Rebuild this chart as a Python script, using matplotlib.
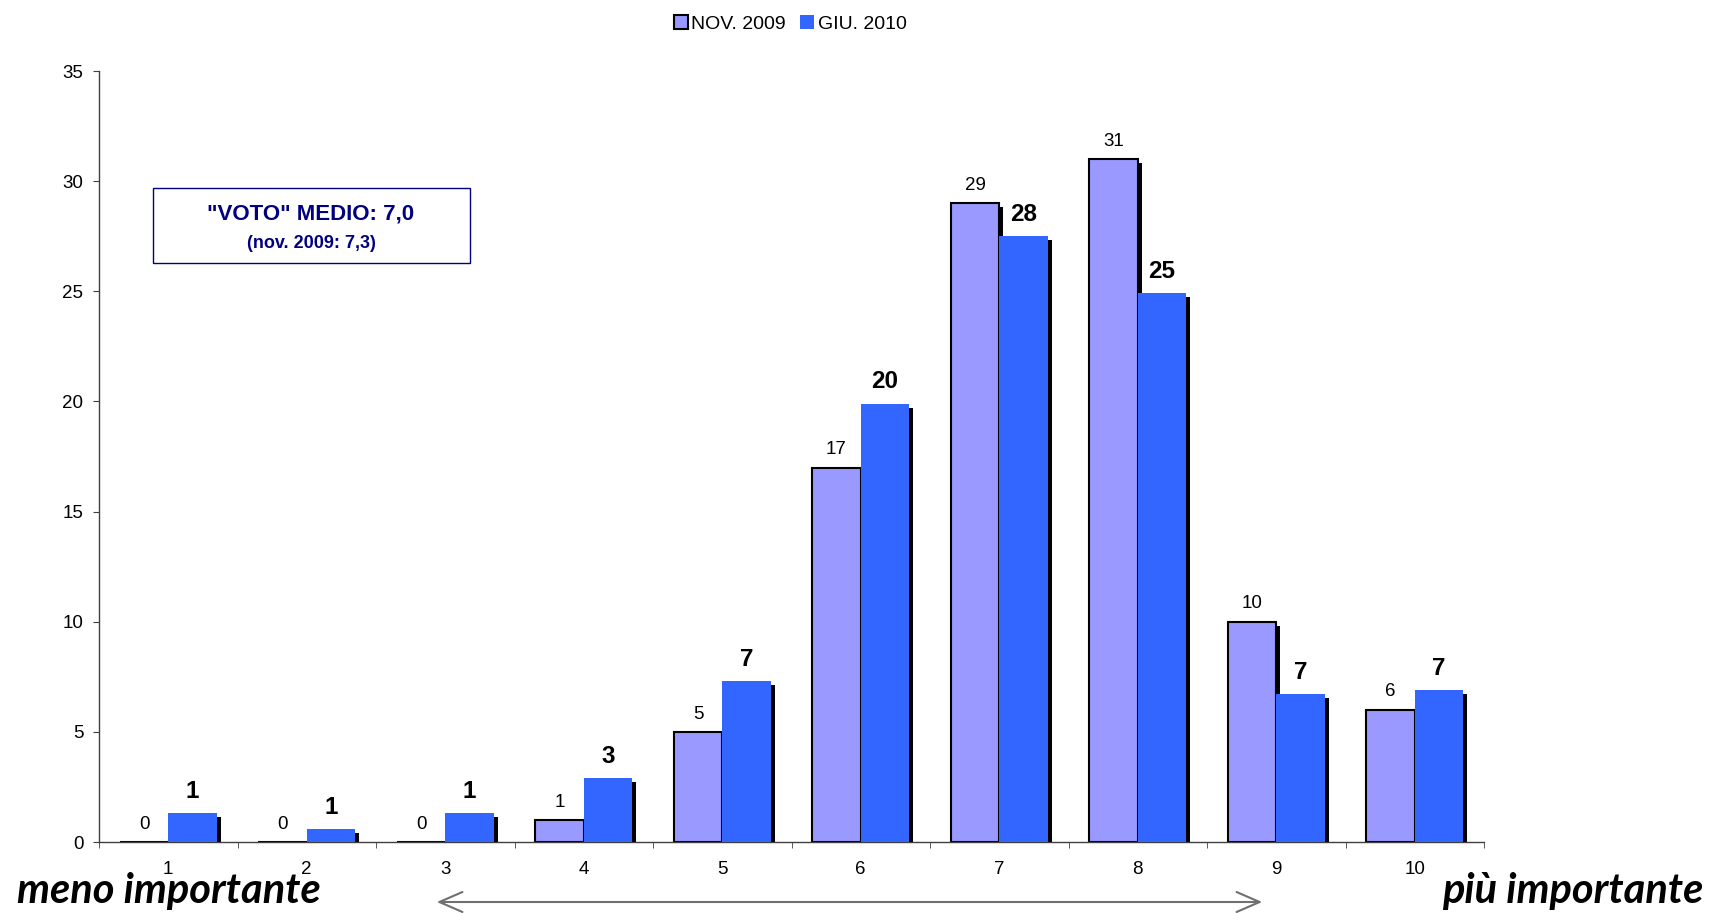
import matplotlib
matplotlib.use("Agg")
import matplotlib.pyplot as plt
import numpy as np
from matplotlib.transforms import ScaledTranslation
from matplotlib.patches import Rectangle, FancyArrowPatch

# Distribution of votes (1 = less important, 10 = more important), percent
categories = ["1", "2", "3", "4", "5", "6", "7", "8", "9", "10"]
nov_2009 = [0, 0, 0, 1, 5, 17, 29, 31, 10, 6]
giu_2010 = [1.3, 0.6, 1.3, 2.9, 7.3, 19.9, 27.5, 24.9, 6.7, 6.9]
series_labels = ["NOV. 2009", "GIU. 2010"]
y_ticks = [0, 5, 10, 15, 20, 25, 30, 35]

plt.rcParams["font.family"] = ["Liberation Sans", "DejaVu Sans"]

W, H = 1713, 913
fig = plt.figure(figsize=(W / 100, H / 100), dpi=100)
ax = fig.add_axes([99 / W, 1 - 842 / H, (1484 - 99) / W, (842 - 71) / H])

x = np.arange(1, len(categories) + 1)
w = 0.35
c_nov = "#9999FF"
c_giu = "#3366FF"

# drop shadow: same bars shifted right/down by a few pixels
shadow = ax.transData + ScaledTranslation(4 / 100, -4 / 100, fig.dpi_scale_trans)

ax.bar(x - w / 2, nov_2009, w, color="black", transform=shadow, zorder=1)
b_nov = ax.bar(x - w / 2, nov_2009, w, color=c_nov, edgecolor="black",
               linewidth=1.5, zorder=2, label=series_labels[0])
ax.bar(x + w / 2, giu_2010, w, color="black", transform=shadow, zorder=3)
b_giu = ax.bar(x + w / 2, giu_2010, w, color=c_giu, linewidth=0,
               zorder=4, label=series_labels[1])

for xi, v in zip(x - w / 2, nov_2009):
    ax.annotate(f"{v:.0f}", (xi, v), xytext=(0, 9.6), textcoords="offset points",
                ha="center", va="baseline", fontsize=13.5, zorder=5)
for xi, v in zip(x + w / 2, giu_2010):
    ax.annotate(f"{round(v)}", (xi, v), xytext=(0, 11), textcoords="offset points",
                ha="center", va="baseline", fontsize=17.5, fontweight="bold", zorder=5)

ax.set_xlim(0.5, len(categories) + 0.5)
ax.set_ylim(0, 35)
ax.set_xticks(x)
ax.set_xticklabels(categories)
ax.set_xticks(np.arange(0.5, len(categories) + 1), minor=True)
ax.set_yticks(y_ticks)

axis_col = "#404040"
ax.tick_params(axis="x", which="major", length=0, pad=13.5, labelsize=13.5)
ax.tick_params(axis="x", which="minor", length=4.3, direction="out", color=axis_col)
ax.tick_params(axis="y", length=4.3, direction="out", pad=7, labelsize=13.5, color=axis_col)
for s in ("top", "right"):
    ax.spines[s].set_visible(False)
for s in ("left", "bottom"):
    ax.spines[s].set_color(axis_col)
    ax.spines[s].set_linewidth(1)

fig.legend(handles=[b_nov, b_giu], labels=series_labels, loc="center",
           bbox_to_anchor=(790 / W, 1 - 24 / H), ncol=2, frameon=False,
           fontsize=14, handlelength=0.72, handleheight=0.72,
           handletextpad=0.2, columnspacing=0.7)

# mean-vote box
navy = "#000080"
fig.add_artist(Rectangle((153 / W, 1 - 263 / H), (470 - 153) / W, (263 - 188) / H,
                         transform=fig.transFigure, facecolor="white",
                         edgecolor=navy, linewidth=1))
fig.text(311 / W, 1 - 214 / H, '"VOTO" MEDIO: 7,0', ha="center", va="center",
         fontsize=16, fontweight="bold", color=navy)
fig.text(311 / W, 1 - 243 / H, "(nov. 2009: 7,3)", ha="center", va="center",
         fontsize=13, fontweight="bold", color=navy)

# scale captions and arrow
cap_font = ["Lato", "Open Sans", "DejaVu Sans"]
fig.text(17 / W, 1 - 903 / H, "meno importante", ha="left", va="baseline",
         fontsize=30, fontweight="bold", style="italic", family=cap_font)
fig.text(1703 / W, 1 - 903 / H, "più importante", ha="right", va="baseline",
         fontsize=30, fontweight="bold", style="italic", family=cap_font)
fig.add_artist(FancyArrowPatch((434 / W, 1 - 902 / H), (1265 / W, 1 - 902 / H),
                               transform=fig.transFigure,
                               arrowstyle="<->,head_length=0.83,head_width=0.36",
                               mutation_scale=20, color="#707070", linewidth=1.5))

fig.savefig("out.png", dpi=100)
